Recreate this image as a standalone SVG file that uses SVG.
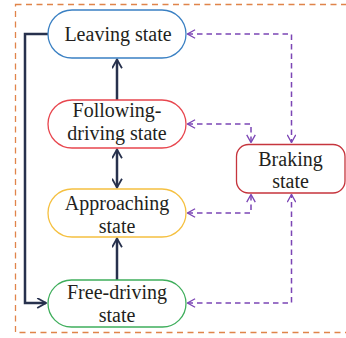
<svg xmlns="http://www.w3.org/2000/svg" width="346" height="338" viewBox="0 0 346 338">
<defs>
<marker id="ah" viewBox="0 0 10 10" refX="9" refY="5" markerWidth="11" markerHeight="11" markerUnits="userSpaceOnUse" orient="auto-start-reverse">
<path d="M1,0.5 L9,5 L1,9.5" fill="none" stroke="#27314d" stroke-width="1.6"/>
</marker>
<marker id="ap" viewBox="0 0 10 10" refX="9" refY="5" markerWidth="9.5" markerHeight="9.5" markerUnits="userSpaceOnUse" orient="auto-start-reverse">
<path d="M1,0.5 L9,5 L1,9.5" fill="none" stroke="#7b45b5" stroke-width="1.4"/>
</marker>
</defs>
<style>
.node{fill:#fff;stroke-width:1.3}
.t{font-family:"Liberation Serif","DejaVu Serif",serif;font-size:20px;fill:#231f20;text-anchor:middle}
.solid{fill:none;stroke:#27314d;stroke-width:2.5}
.dash{fill:none;stroke:#7b45b5;stroke-width:1.5;stroke-dasharray:5.5,4}
</style>
<rect x="15.5" y="4.5" width="345" height="328" fill="none" stroke="#e0844a" stroke-width="1.3" stroke-dasharray="6,4.5"/>
<g id="connectors">
<path class="solid" d="M48,34 H25 V303 H46" marker-end="url(#ah)"/>
<path class="solid" d="M117,100 V59.5" marker-end="url(#ah)"/>
<path class="solid" d="M117,149.5 V187.5" marker-start="url(#ah)" marker-end="url(#ah)"/>
<path class="solid" d="M117,280 V238.5" marker-end="url(#ah)"/>
<path class="dash" d="M187.5,34 H291.5 V142.5" marker-start="url(#ap)" marker-end="url(#ap)"/>
<path class="dash" d="M187.5,124 H251 V142.5" marker-start="url(#ap)" marker-end="url(#ap)"/>
<path class="dash" d="M187.5,213 H251 V194.5" marker-start="url(#ap)" marker-end="url(#ap)"/>
<path class="dash" d="M187.5,303 H291.5 V194.5" marker-start="url(#ap)" marker-end="url(#ap)"/>
</g>
<g id="leaving">
<rect class="node" x="48" y="10" width="138" height="48" rx="24" stroke="#3a80c3"/>
<text class="t" x="118" y="41">Leaving state</text>
</g>
<g id="following">
<rect class="node" x="48" y="100" width="138" height="48" rx="24" stroke="#e8464e"/>
<text class="t" x="117" y="117">Following-</text>
<text class="t" x="117" y="140">driving state</text>
</g>
<g id="approaching">
<rect class="node" x="48" y="189" width="138" height="48" rx="24" stroke="#f5c040"/>
<text class="t" x="117" y="210">Approaching</text>
<text class="t" x="117" y="233">state</text>
</g>
<g id="free">
<rect class="node" x="48" y="280" width="138" height="47" rx="23.5" stroke="#3fae5c"/>
<text class="t" x="117" y="299">Free-driving</text>
<text class="t" x="117" y="322">state</text>
</g>
<g id="braking">
<rect class="node" x="236.5" y="144.5" width="108.5" height="48.5" rx="12" stroke="#c6353d"/>
<text class="t" x="290.5" y="166">Braking</text>
<text class="t" x="290.5" y="188">state</text>
</g>
</svg>
